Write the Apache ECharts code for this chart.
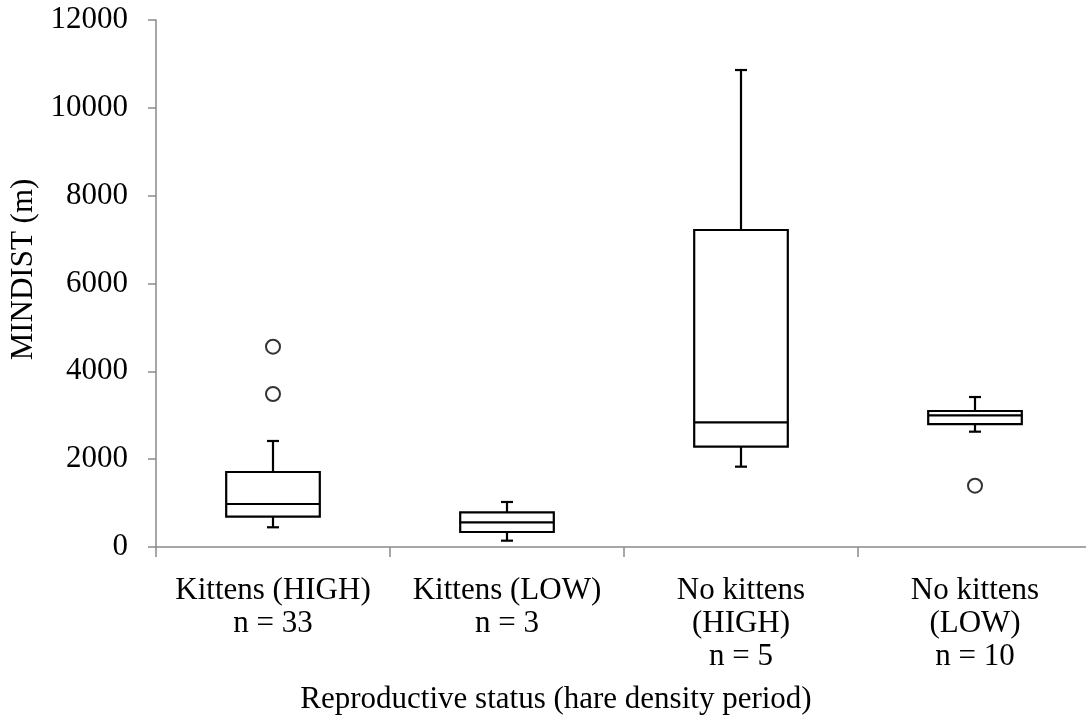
<!DOCTYPE html>
<html>
<head>
<meta charset="utf-8">
<script src="https://cdn.jsdelivr.net/npm/echarts@6/dist/echarts.min.js"></script>
<style>
  html, body { margin: 0; padding: 0; background: #fff; }
  #chart { width: 1086px; height: 721px; }
</style>
</head>
<body>
<div id="chart"></div>
<script>
const categories = [
  'Kittens (HIGH)\nn = 33',
  'Kittens (LOW)\nn = 3',
  'No kittens\n(HIGH)\nn = 5',
  'No kittens\n(LOW)\nn = 10'
]
const lowerWhisker = [449, 144, 1829, 2626]
const q1 = [690, 342, 2284, 2800]
const median = [979, 562, 2839, 2998]
const q3 = [1708, 790, 7218, 3097]
const upperWhisker = [2414, 1025, 10861, 3415]
const outliers = [[0, 3484], [0, 4561], [3, 1396]]
const yTicks = [0, 2000, 4000, 6000, 8000, 10000, 12000]

const font = 'Liberation Serif'
const axisGray = '#8a8a8a'

const boxData = categories.map((c, i) => [i, lowerWhisker[i], q1[i], median[i], q3[i], upperWhisker[i]])

const renderBox = (params, api) => {
  const x = api.value(0)
  const lo = api.coord([x, api.value(1)])
  const b1 = api.coord([x, api.value(2)])
  const md = api.coord([x, api.value(3)])
  const b3 = api.coord([x, api.value(4)])
  const hi = api.coord([x, api.value(5)])
  const half = api.size([1, 0])[0] * 0.2
  const cap = 6
  const cx = lo[0]
  const style = { stroke: '#000', lineWidth: 2.2, fill: null }
  const line = (x1, y1, x2, y2) => ({ type: 'line', shape: { x1, y1, x2, y2 }, style })
  return {
    type: 'group',
    children: [
      line(cx, hi[1], cx, b3[1]),
      line(cx - cap, hi[1], cx + cap, hi[1]),
      line(cx, b1[1], cx, lo[1]),
      line(cx - cap, lo[1], cx + cap, lo[1]),
      {
        type: 'rect',
        shape: { x: cx - half, y: b3[1], width: half * 2, height: b1[1] - b3[1] },
        style: { stroke: '#000', lineWidth: 2.2, fill: '#fff' }
      },
      line(cx - half, md[1], cx + half, md[1])
    ]
  }
}

const chart = echarts.init(document.getElementById('chart'))
chart.setOption({
  animation: false,
  grid: { left: 156, top: 20, width: 936, bottom: 174, outerBoundsMode: 'none', containLabel: false },
  xAxis: {
    type: 'category',
    data: categories,
    boundaryGap: true,
    name: 'Reproductive status (hare density period)',
    nameLocation: 'middle',
    nameGap: 137,
    nameTextStyle: { fontFamily: font, fontSize: 31, color: '#000', padding: [0, 136, 0, 0] },
    axisLine: { lineStyle: { color: axisGray, width: 1.5 } },
    axisTick: { show: true, interval: 0, length: 10, lineStyle: { color: axisGray, width: 1.5 } },
    axisLabel: { interval: 0, margin: 27, fontFamily: font, fontSize: 31, lineHeight: 33, color: '#000' },
    splitLine: { show: false }
  },
  yAxis: {
    type: 'value',
    min: 0,
    max: 12000,
    interval: 2000,
    name: 'MINDIST (m)',
    nameLocation: 'middle',
    nameGap: 114,
    nameTextStyle: { fontFamily: font, fontSize: 31, color: '#000', padding: [0, 0, 0, 28] },
    axisLine: { show: true, lineStyle: { color: axisGray, width: 1.5 } },
    axisTick: { show: true, length: 8, lineStyle: { color: axisGray, width: 1.5 } },
    axisLabel: {
      margin: 28, fontFamily: font, fontSize: 31, color: '#000',
      formatter: (v) => yTicks.includes(v) ? String(v) : ''
    },
    splitLine: { show: false }
  },
  series: [
    {
      type: 'custom',
      renderItem: renderBox,
      encode: { x: 0, y: [1, 2, 3, 4, 5] },
      data: boxData,
      z: 2
    },
    {
      type: 'scatter',
      data: outliers,
      symbol: 'circle',
      symbolSize: 14,
      itemStyle: { color: '#fff', borderColor: '#000', borderWidth: 2 },
      z: 3
    }
  ]
})
</script>
</body>
</html>
